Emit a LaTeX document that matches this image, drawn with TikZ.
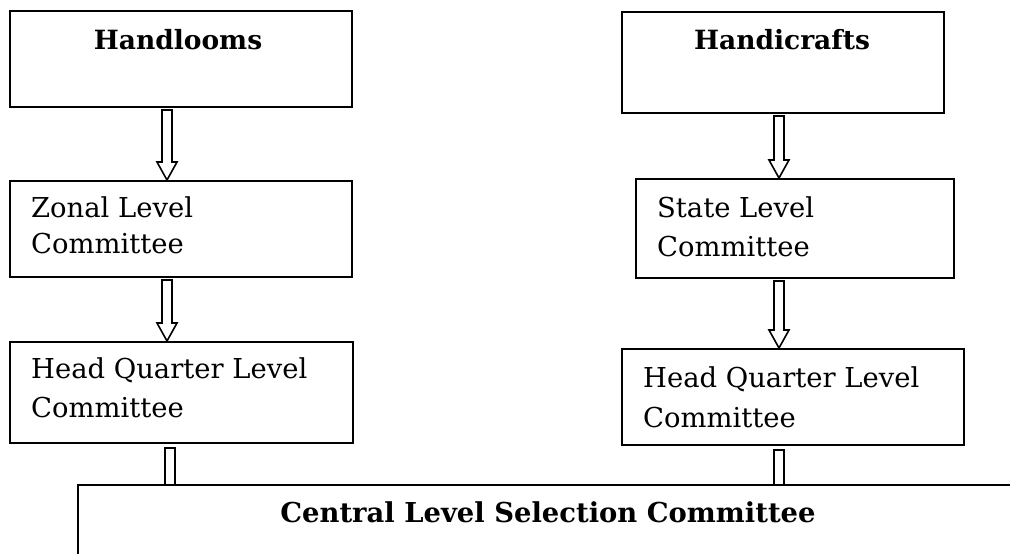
\documentclass[tikz,border=0pt]{standalone}
\usepackage{fontspec}
\setmainfont{DejaVu Serif}
\usetikzlibrary{calc}
\tikzset{
  box/.style={draw=black, line width=2pt, rectangle, inner sep=0pt, anchor=north west, fill=white},
  txt/.style={inner sep=0pt, anchor=base west, font=\fontsize{27.4}{36}\selectfont},
  ttl/.style={inner sep=0pt, anchor=base, font=\fontsize{26.5}{30}\selectfont\bfseries},
  bigttl/.style={inner sep=0pt, anchor=base, font=\fontsize{27.4}{30}\selectfont\bfseries},
  arrline/.style={draw=black, line width=1.6pt, fill=white, line join=miter}
}
\newcommand\blockarrow[3]{%
  \draw[arrline] let \p1=(#1.south), \p2=(#2.north) in
    (#3pt-5pt,\y1-2pt) -- (#3pt-5pt,\y2+18pt) -- (#3pt-10pt,\y2+18pt) -- (#3pt,\y2)
    -- (#3pt+10pt,\y2+18pt) -- (#3pt+5pt,\y2+18pt) -- (#3pt+5pt,\y1-2pt) -- cycle;}
\newcommand\blockbar[3]{%
  \draw[arrline] let \p1=(#1.south), \p2=(#2.north) in
    (#3pt-5pt,\y2) -- (#3pt-5pt,\y1-4pt) -- (#3pt+5pt,\y1-4pt) -- (#3pt+5pt,\y2);}
\begin{document}
\begin{tikzpicture}[x=1pt,y=-1pt]
\useasboundingbox (0,0) rectangle (1010,554);
\clip (0,0) rectangle (1010,554);
% left column
\node[box, minimum width=342pt, minimum height=96pt] (hl) at (9,10) {};
\node[ttl] (hlt) at (178,49) {Handlooms};
\node[box, minimum width=342pt, minimum height=96pt] (zl) at (9,180) {};
\node[txt] (zl1) at (31,217) {Zonal Level};
\node[txt] (zl2) at (31,253) {Committee};
\node[box, minimum width=343pt, minimum height=101pt] (hql) at (9,341) {};
\node[txt] (hql1) at (31,378) {Head Quarter Level};
\node[txt] (hql2) at (31,417) {Committee};
% right column
\node[box, minimum width=322pt, minimum height=101pt] (hc) at (621,11) {};
\node[ttl] (hct) at (782,49) {Handicrafts};
\node[box, minimum width=318pt, minimum height=99pt] (sl) at (635,178) {};
\node[txt] (sl1) at (657,217) {State Level};
\node[txt] (sl2) at (657,256) {Committee};
\node[box, minimum width=342pt, minimum height=96pt] (hqr) at (621,348) {};
\node[txt] (hqr1) at (643,387) {Head Quarter Level};
\node[txt] (hqr2) at (643,427) {Committee};
% central
\node[box, minimum width=1000pt, minimum height=200pt] (cls) at (77,484) {};
\node[bigttl] (clst) at (548,522) {Central Level Selection Committee};
% arrows
\blockarrow{hl}{zl}{167}
\blockarrow{zl}{hql}{167}
\blockarrow{hc}{sl}{779}
\blockarrow{sl}{hqr}{779}
\blockbar{hql}{cls}{170}
\blockbar{hqr}{cls}{779}
\end{tikzpicture}
\end{document}
